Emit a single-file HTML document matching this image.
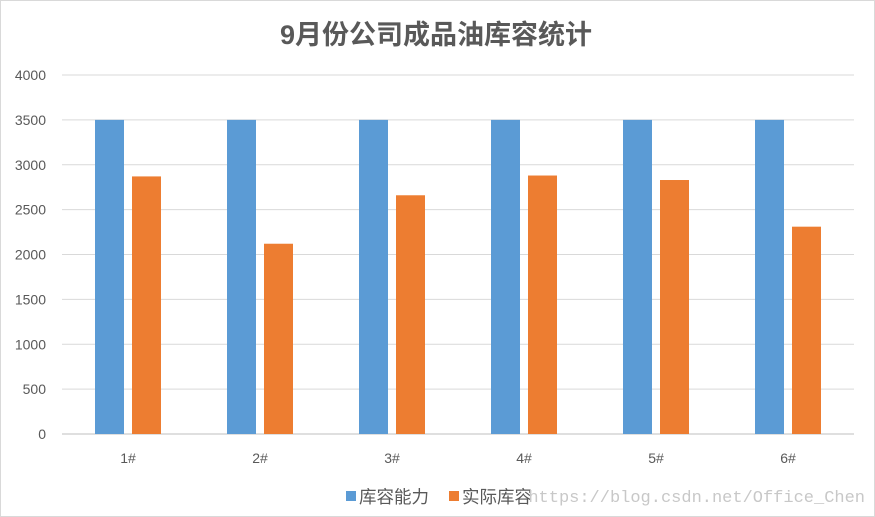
<!DOCTYPE html>
<html><head><meta charset="utf-8"><style>
body{margin:0;background:#fff;}
svg{display:block;font-family:"Liberation Sans","Noto Sans CJK SC",sans-serif;}
</style></head><body>
<svg id="chart" width="875" height="517" viewBox="0 0 875 517">
<rect x="0.5" y="0.5" width="874" height="516" fill="#fff" stroke="#d9d9d9"/>
<text x="436" y="44" text-anchor="middle" font-size="27" font-weight="bold" fill="#595959">9月份公司成品油库容统计</text>
<g id="grid"></g><g id="bars"></g><g id="labels"></g>
<g>
<rect x="346" y="491" width="10" height="10" fill="#5b9bd5"/>
<text x="359" y="503" font-size="17.5" fill="#595959">库容能力</text>
<rect x="449" y="491" width="10" height="10" fill="#ed7d31"/>
<text x="462" y="503" font-size="17.5" fill="#595959">实际库容</text>
</g>
<text x="865" y="502" text-anchor="end" font-size="17" fill="#c8c8c8" font-family="Liberation Mono, monospace">https://blog.csdn.net/Office_Chen</text>
</svg>
<script>
const categories=["1#","2#","3#","4#","5#","6#"];
const capacity=[3500,3500,3500,3500,3500,3500];
const actual=[2870,2120,2660,2880,2830,2310];
const yTicks=[0,500,1000,1500,2000,2500,3000,3500,4000];
const NS="http://www.w3.org/2000/svg";
const x0=62,x1=854,y0=434,yTop=75,yMax=4000;
const band=(x1-x0)/categories.length;
function y(v){return y0-(v/yMax)*(y0-yTop);}
function cx(i){return x0+band*(i+0.5);}
function mk(tag,attrs,parent){const e=document.createElementNS(NS,tag);for(const k in attrs)e.setAttribute(k,attrs[k]);parent.appendChild(e);return e;}
const grid=document.getElementById('grid'),bars=document.getElementById('bars'),labels=document.getElementById('labels');
yTicks.forEach(t=>{
  const l=mk('line',{x1:x0,x2:x1,y1:y(t),y2:y(t),stroke:t===0?'#bfbfbf':'#d9d9d9','stroke-width':1},grid);
  
  
  const tx=mk('text',{x:46,y:y(t)+5,'text-anchor':'end','font-size':14,fill:'#595959'},labels);
  tx.textContent=t;
  
  
});
const bw=29,gap=8;
categories.forEach((c,i)=>{
  const c0=cx(i);
  const b1=mk('rect',{x:c0-gap/2-bw,y:y(capacity[i]),width:bw,height:y0-y(capacity[i]),fill:'#5b9bd5'},bars);
  
  
  const b2=mk('rect',{x:c0+gap/2,y:y(actual[i]),width:bw,height:y0-y(actual[i]),fill:'#ed7d31'},bars);
  
  
  const t=mk('text',{x:c0,y:463,'text-anchor':'middle','font-size':14,fill:'#595959'},labels);
  t.textContent=c;
  
  
});
</script>
</body></html>
